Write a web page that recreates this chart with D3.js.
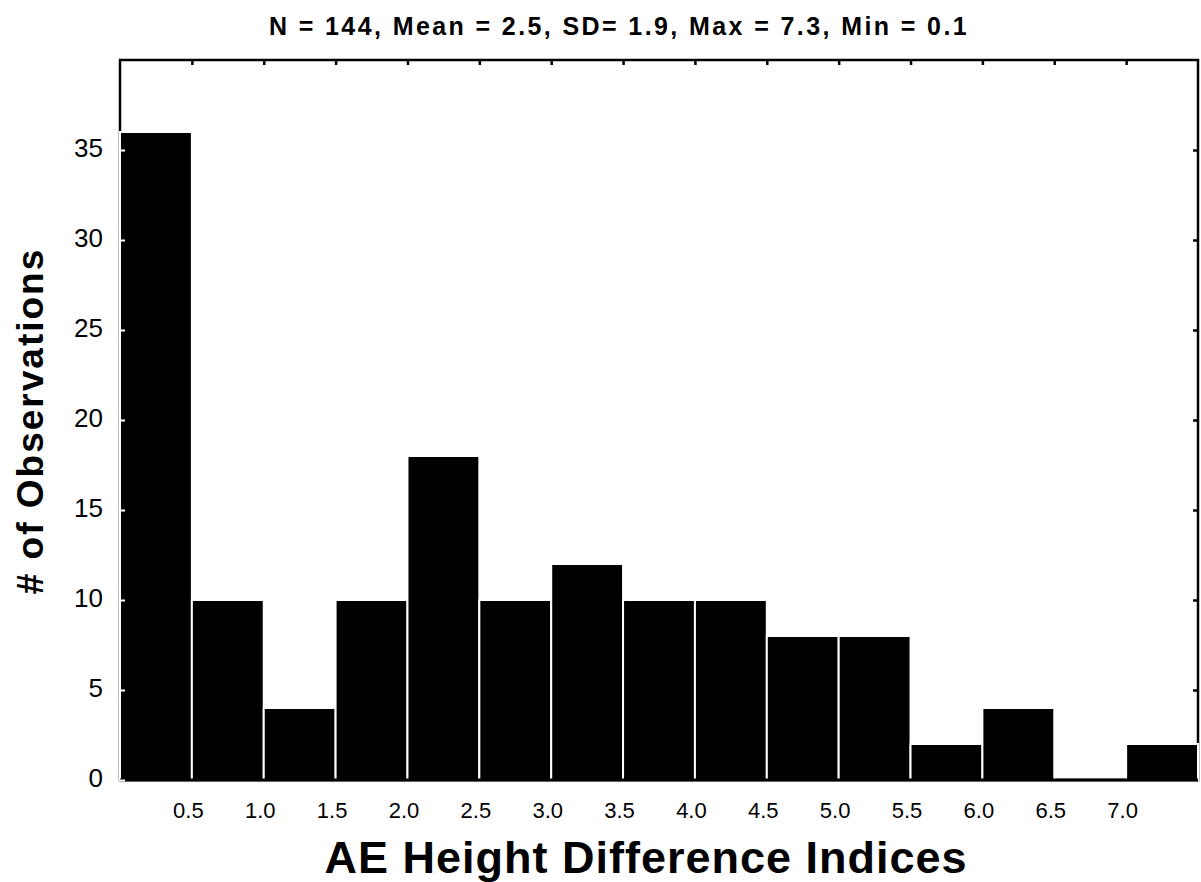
<!DOCTYPE html>
<html>
<head>
<meta charset="utf-8">
<script src="https://cdn.jsdelivr.net/npm/d3@7"></script>
<style>
  html, body { margin: 0; padding: 0; background: #fff; }
  svg { display: block; }
</style>
</head>
<body>
<script>
// Histogram of AE height difference indices, bins of width 0.5
const binStarts = [0.0, 0.5, 1.0, 1.5, 2.0, 2.5, 3.0, 3.5, 4.0, 4.5, 5.0, 5.5, 6.0, 6.5, 7.0];
const counts    = [36, 10, 4, 10, 18, 10, 12, 10, 10, 8, 8, 2, 4, 0, 2];
const binWidth = 0.5;
const xTickValues = [0.5, 1.0, 1.5, 2.0, 2.5, 3.0, 3.5, 4.0, 4.5, 5.0, 5.5, 6.0, 6.5, 7.0];
const yTickValues = [0, 5, 10, 15, 20, 25, 30, 35];
const titleText = "N = 144, Mean = 2.5, SD= 1.9, Max = 7.3, Min = 0.1";
const xTitle = "AE Height Difference Indices";
const yTitle = "# of Observations";

const W = 1201, H = 882;
const plotL = 120, plotR = 1198, plotT = 60, plotB = 780;

const svg = d3.select("body").append("svg").attr("width", W).attr("height", H);

const x = d3.scaleLinear().domain([0, 7.5]).range([plotL, plotR]);
const y = d3.scaleLinear().domain([0, 40]).range([plotB, plotT]);

// frame
svg.append("rect")
  .attr("x", plotL).attr("y", plotT)
  .attr("width", plotR - plotL).attr("height", plotB - plotT)
  .attr("fill", "none").attr("stroke", "#000").attr("stroke-width", 2.5);

// top ticks (inward)
svg.append("g")
  .attr("transform", `translate(0,${plotT})`)
  .call(d3.axisTop(x).tickValues(xTickValues).tickSizeInner(-5).tickSizeOuter(0).tickFormat(""))
  .call(g => g.select(".domain").remove())
  .call(g => g.selectAll("line").attr("stroke", "#000").attr("stroke-width", 2.5));

// right ticks (inward)
svg.append("g")
  .attr("transform", `translate(${plotR},0)`)
  .call(d3.axisRight(y).tickValues(yTickValues.slice(1)).tickSizeInner(-5).tickSizeOuter(0).tickFormat(""))
  .call(g => g.select(".domain").remove())
  .call(g => g.selectAll("line").attr("stroke", "#000").attr("stroke-width", 2.5));

// bars
const bars = binStarts.map((b, i) => ({ x0: b, x1: b + binWidth, n: counts[i] }));
svg.append("g").selectAll("rect").data(bars).join("rect")
  .attr("x", d => x(d.x0))
  .attr("y", d => y(d.n))
  .attr("width", d => x(d.x1) - x(d.x0))
  .attr("height", d => y(0) - y(d.n))
  .attr("fill", "#000")
  .attr("stroke", "#fff")
  .attr("stroke-width", 2);

// baseline
svg.append("line")
  .attr("x1", plotL).attr("x2", plotR)
  .attr("y1", plotB).attr("y2", plotB)
  .attr("stroke", "#000").attr("stroke-width", 3);

// left axis: inward ticks over the bars, labels outside
const yAxis = svg.append("g")
  .attr("transform", `translate(${plotL},0)`)
  .call(d3.axisLeft(y).tickValues(yTickValues).tickSize(0).tickPadding(17).tickFormat(d3.format("d")));
yAxis.select(".domain").remove();
yAxis.selectAll("text")
  .attr("font-family", "Liberation Sans, Arial, sans-serif")
  .attr("font-size", 26).attr("fill", "#000")
  .attr("y", -2);
yAxis.selectAll(".tick").append("line")
  .attr("x1", 0).attr("x2", 5)
  .attr("stroke", "#fff").attr("stroke-width", 2);

// bottom axis labels
const xAxis = svg.append("g")
  .attr("transform", `translate(0,${plotB})`)
  .call(d3.axisBottom(x).tickValues(xTickValues).tickSize(0).tickPadding(22).tickFormat(d3.format(".1f")));
xAxis.select(".domain").remove();
xAxis.selectAll("text")
  .attr("font-family", "Liberation Sans, Arial, sans-serif")
  .attr("font-size", 22).attr("fill", "#000")
  .attr("dx", -4);

// titles
svg.append("text")
  .attr("x", 619).attr("y", 35)
  .attr("text-anchor", "middle")
  .attr("font-family", "Liberation Sans, Arial, sans-serif")
  .attr("font-weight", "bold")
  .attr("font-size", 25)
  .attr("letter-spacing", 2.4)
  .text(titleText);

svg.append("text")
  .attr("x", 646).attr("y", 873)
  .attr("text-anchor", "middle")
  .attr("font-family", "Liberation Sans, Arial, sans-serif")
  .attr("font-weight", "bold")
  .attr("font-size", 45)
  .attr("letter-spacing", 1)
  .text(xTitle);

svg.append("text")
  .attr("transform", "translate(43,421) rotate(-90)")
  .attr("text-anchor", "middle")
  .attr("font-family", "Liberation Sans, Arial, sans-serif")
  .attr("font-weight", "bold")
  .attr("font-size", 37)
  .attr("letter-spacing", 2)
  .text(yTitle);
</script>
</body>
</html>
